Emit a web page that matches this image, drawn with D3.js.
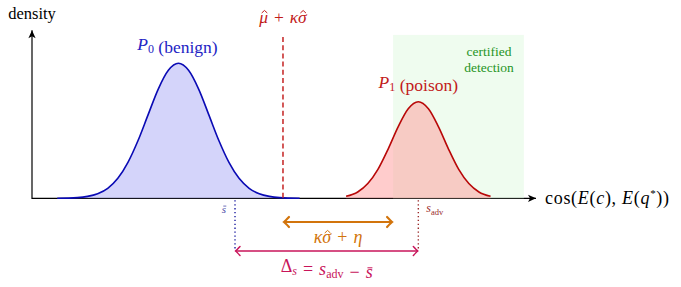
<!DOCTYPE html>
<html>
<head>
<meta charset="utf-8">
<script src="https://cdn.jsdelivr.net/npm/d3@7"></script>
<style>
  html, body { margin: 0; padding: 0; background: #fff; }
</style>
</head>
<body>
<svg id="chart" width="681" height="287"></svg>
<script>
// Score densities for benign vs poisoned passages, with the detection threshold.

// x = cosine score (relative units), density normalised to the benign peak
const benignX = [0.05, 0.09, 0.11, 0.13, 0.15, 0.17, 0.19, 0.21, 0.23, 0.25, 0.27, 0.29,
                 0.31, 0.33, 0.35, 0.37, 0.39, 0.41, 0.43, 0.45, 0.47, 0.49, 0.53];
const benignDensity = [0, 0.005, 0.014, 0.034, 0.074, 0.148, 0.266, 0.428, 0.62, 0.809, 0.948, 1.0,
                       0.948, 0.809, 0.62, 0.428, 0.266, 0.148, 0.074, 0.034, 0.014, 0.005, 0];

const poisonX = [0.622, 0.645, 0.665, 0.685, 0.705, 0.725, 0.745, 0.765,
                 0.785, 0.805, 0.825, 0.845, 0.865, 0.885, 0.908];
const poisonDensity = [0.015, 0.047, 0.109, 0.214, 0.363, 0.529, 0.663, 0.715,
                       0.663, 0.529, 0.363, 0.214, 0.109, 0.047, 0.015];

const threshold = 0.497;      // mu-hat + kappa sigma-hat
const sBar = 0.402;
const sAdv = 0.765;
const certified = [0.715, 0.974];

const svg = d3.select('#chart');
const x = d3.scaleLinear().domain([0, 1]).range([32, 537]);
const y = d3.scaleLinear().domain([0, 1]).range([198.3, 63.3]);

const C = {
  blue: '#0a0ab4', blueFill: '#aaaaf5', blueText: '#2323c4',
  red: '#b80808', redFill: '#ff9999', redText: '#c21a1a', dash: '#c83030',
  green: '#1f951f', greenFill: '#e0fae0',
  orange: '#d2740c', magenta: '#c8145a'
};
const SP = '\u2004';   // math-ish spacing around binary operators

const defs = svg.append('defs');
function stealth(id, color) {
  defs.append('marker').attr('id', id)
    .attr('viewBox', '-10 -5 12 10').attr('refX', 0).attr('refY', 0)
    .attr('markerWidth', 12).attr('markerHeight', 10).attr('markerUnits', 'userSpaceOnUse')
    .attr('orient', 'auto')
    .append('path').attr('d', 'M0,0 L-8,-3.6 L-6,0 L-8,3.6 Z').attr('fill', color);
}
function openHead(id, color, size, sw) {
  defs.append('marker').attr('id', id)
    .attr('viewBox', `${-size - 2} ${-size - 2} ${size + 4} ${2 * size + 4}`)
    .attr('refX', 0).attr('refY', 0)
    .attr('markerWidth', size + 4).attr('markerHeight', 2 * size + 4)
    .attr('markerUnits', 'userSpaceOnUse')
    .attr('orient', 'auto-start-reverse')
    .append('path')
    .attr('d', `M${-size},${-size} Q${-size * 0.25},${-size * 0.2} 0,0 Q${-size * 0.25},${size * 0.2} ${-size},${size}`)
    .attr('fill', 'none').attr('stroke', color).attr('stroke-width', sw)
    .attr('stroke-linecap', 'round');
}
stealth('axisHead', '#000');
openHead('orangeHead', C.orange, 5, 2.2);
openHead('magentaHead', C.magenta, 4.5, 1.4);

// axes
svg.append('line').attr('x1', x(0)).attr('y1', y(0)).attr('x2', x(1) - 1).attr('y2', y(0))
  .attr('stroke', '#000').attr('stroke-width', 1.2).attr('marker-end', 'url(#axisHead)');
svg.append('line').attr('x1', x(0)).attr('y1', y(0) + 0.6).attr('x2', x(0)).attr('y2', y(1.245))
  .attr('stroke', '#000').attr('stroke-width', 1.2).attr('marker-end', 'url(#axisHead)');

// certified detection region
svg.append('rect')
  .attr('x', x(certified[0])).attr('y', y(1.21))
  .attr('width', x(certified[1]) - x(certified[0])).attr('height', y(0) - y(1.21))
  .attr('fill', C.greenFill).attr('fill-opacity', 0.5);

const area = d3.area().x((d) => x(d[0])).y0(y(0)).y1((d) => y(d[1])).curve(d3.curveMonotoneX);
const line = d3.line().x((d) => x(d[0])).y((d) => y(d[1])).curve(d3.curveMonotoneX);

const benign = d3.zip(benignX, benignDensity);
const poison = d3.zip(poisonX, poisonDensity);

svg.append('path').datum(benign).attr('d', area).attr('fill', C.blueFill).attr('fill-opacity', 0.5);
svg.append('path').datum(benign).attr('d', line).attr('fill', 'none')
  .attr('stroke', C.blue).attr('stroke-width', 1.6);
svg.append('path').datum(poison).attr('d', area).attr('fill', C.redFill).attr('fill-opacity', 0.5);
svg.append('path').datum(poison).attr('d', line).attr('fill', 'none')
  .attr('stroke', C.red).attr('stroke-width', 1.6);

// threshold
svg.append('line').attr('x1', x(threshold)).attr('x2', x(threshold))
  .attr('y1', y(1.195)).attr('y2', y(0))
  .attr('stroke', C.dash).attr('stroke-width', 1.6).attr('stroke-dasharray', '5,3.2');

// dotted drop lines
svg.append('line').attr('x1', x(sBar)).attr('x2', x(sBar)).attr('y1', y(0) + 2).attr('y2', 251)
  .attr('stroke', '#1c1ca0').attr('stroke-width', 1.4).attr('stroke-dasharray', '1.3,2.6');
svg.append('line').attr('x1', x(sAdv)).attr('x2', x(sAdv)).attr('y1', y(0) + 2).attr('y2', 251)
  .attr('stroke', '#9a2a2a').attr('stroke-width', 1.4).attr('stroke-dasharray', '1.3,2.6');

// gap arrows
svg.append('line').attr('x1', x(threshold) + 1).attr('x2', x(certified[0]) - 1)
  .attr('y1', 222).attr('y2', 222)
  .attr('stroke', C.orange).attr('stroke-width', 2.2)
  .attr('marker-start', 'url(#orangeHead)').attr('marker-end', 'url(#orangeHead)');
svg.append('line').attr('x1', x(sBar) + 0.5).attr('x2', x(sAdv) - 0.5)
  .attr('y1', 251).attr('y2', 251)
  .attr('stroke', C.magenta).attr('stroke-width', 1.4)
  .attr('marker-start', 'url(#magentaHead)').attr('marker-end', 'url(#magentaHead)');

// text helpers
function label(px, py, size, color, anchor) {
  return svg.append('text').attr('x', px).attr('y', py)
    .style('font-family', '"Liberation Serif"')
    .attr('font-size', size).attr('fill', color).attr('text-anchor', anchor || 'middle');
}
function it(t, s) { return t.append('tspan').attr('font-style', 'italic').text(s); }
function rm(t, s) { return t.append('tspan').text(s); }
function sub(t, s, size, dy, italic) {
  t.append('tspan').attr('font-size', size).attr('dy', dy)
    .attr('font-style', italic ? 'italic' : null).text(s);
  return t.append('tspan').attr('dy', -dy).text('');
}
// hat / bar drawn over a given character of a text element
function accent(t, i, kind, color, sw) {
  const b = t.node().getExtentOfChar(i);
  const cx = b.x + b.width / 2 + 0.8;
  const top = b.y + b.height * (kind === 'hat' ? 0.3 : 0.34);
  const w = b.width * 0.32;
  const d = kind === 'hat'
    ? `M${cx - w},${top} L${cx},${top - w * 0.9} L${cx + w},${top}`
    : `M${cx - w * 1.1},${top - 1} L${cx + w * 1.1},${top - 1}`;
  svg.append('path').attr('d', d).attr('fill', 'none').attr('stroke', color)
    .attr('stroke-width', sw || 1);
}

label(x(0), 19, 16.5, '#000').text('density');

let t = label(x(threshold), 23, 17.5, C.redText);
it(t, 'μ'); rm(t, SP + '+' + SP); it(t, 'κσ');
accent(t, 0, 'hat', C.redText); accent(t, 5, 'hat', C.redText);

t = label(x(0.29) - 1, 50, 17.5, C.blueText);
it(t, 'P'); sub(t, '0', 12, 3); rm(t, ' (benign)');

t = label(x(sAdv), 88, 17.5, C.redText);
it(t, 'P'); sub(t, '1', 12, 3); rm(t, ' (poison)');

label(489, 56, 13.5, C.green).text('certified');
label(489, 72, 13.5, C.green).text('detection');

t = label(545, 204, 18, '#000', 'start').attr('letter-spacing', 0.7);
rm(t, 'cos('); it(t, 'E'); rm(t, '('); it(t, 'c'); rm(t, '),\u2005'); it(t, 'E'); rm(t, '(');
it(t, 'q'); t.append('tspan').attr('font-size', 11).attr('dy', -7).text('*');
t.append('tspan').attr('dy', 7).text('))');

t = label(x(sBar) - 11, 213, 11, '#4a4aa8');
it(t, 's');
accent(t, 0, 'bar', '#4a4aa8', 0.8);

t = label(x(sAdv) + 8, 212, 12, '#9a2a2a', 'start');
it(t, 's'); sub(t, 'adv', 8.5, 2.5);

t = label((x(threshold) + x(certified[0])) / 2, 243, 18, C.orange);
it(t, 'κσ'); rm(t, SP + '+' + SP); it(t, 'η');
accent(t, 1, 'hat', C.orange);

t = label((x(sBar) + x(sAdv)) / 2, 272, 18, C.magenta);
rm(t, 'Δ'); sub(t, 's', 12, 3, true); rm(t, SP + '=' + SP); it(t, 's'); sub(t, 'adv', 12, 3);
rm(t, SP + '−' + SP); it(t, 's');
accent(t, 12, 'bar', C.magenta);
</script>
</body>
</html>
